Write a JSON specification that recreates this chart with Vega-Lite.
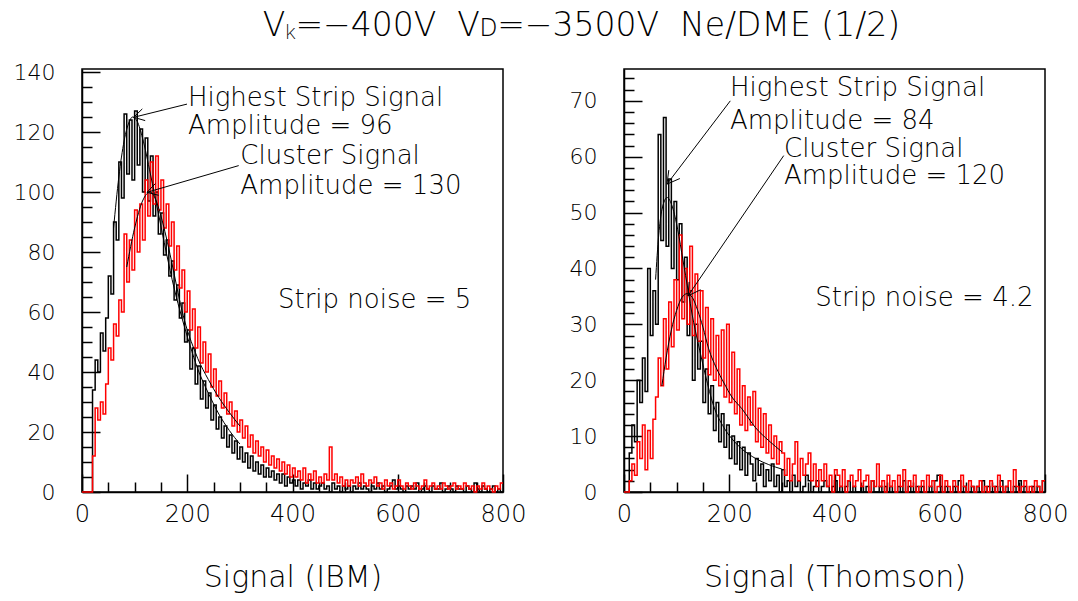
{
"$schema":"https://vega.github.io/schema/vega-lite/v6.json",
"padding":{"left":12,"top":10,"right":5,"bottom":0},
"background":"white",
"config":{"font":"DejaVu Sans","view":{"stroke":"black","strokeWidth":1.5},
"axis":{"labelFont":"DejaVu Sans","labelFontWeight":200,"labelColor":"black","tickColor":"black","domainColor":"black","tickWidth":1.5,"domainWidth":1.5,"grid":false,"labelFlush":false,"labelOverlap":false,"titleFont":"DejaVu Sans","titleFontWeight":200,"titleColor":"black"}},
"title":{"text":"Vₖ=−400V\u00a0\u00a0Vᴅ=−3500V\u00a0\u00a0Ne/DME (1/2)","fontSize":33,"fontWeight":200,"font":"DejaVu Sans, Noto Sans","color":"black","anchor":"middle","offset":17,"dx":41},
"bounds":"flush",
"spacing":121,
"datasets":{
"L":[{"x":0,"a":0,"b":0},{"x":5,"a":0,"b":0},{"x":10,"a":0,"b":0},{"x":15,"a":0,"b":0},{"x":20,"a":34,"b":12},{"x":25,"a":44,"b":28},{"x":30,"a":40,"b":24},{"x":35,"a":53,"b":30},{"x":40,"a":47,"b":26},{"x":45,"a":58,"b":36},{"x":50,"a":72,"b":48},{"x":55,"a":66,"b":44},{"x":60,"a":90,"b":56},{"x":65,"a":84,"b":52},{"x":70,"a":110,"b":64},{"x":75,"a":98,"b":60},{"x":80,"a":126,"b":86},{"x":85,"a":106,"b":70},{"x":90,"a":124,"b":84},{"x":95,"a":104,"b":74},{"x":100,"a":127,"b":94},{"x":105,"a":109,"b":80},{"x":110,"a":121,"b":96},{"x":115,"a":100,"b":84},{"x":120,"a":118,"b":104},{"x":125,"a":97,"b":92},{"x":130,"a":112,"b":110},{"x":135,"a":92,"b":96},{"x":140,"a":100,"b":112},{"x":145,"a":86,"b":94},{"x":150,"a":93,"b":104},{"x":155,"a":79,"b":88},{"x":160,"a":84,"b":96},{"x":165,"a":72,"b":82},{"x":170,"a":77,"b":90},{"x":175,"a":64,"b":74},{"x":180,"a":69,"b":82},{"x":185,"a":58,"b":68},{"x":190,"a":63,"b":74},{"x":195,"a":50,"b":60},{"x":200,"a":54,"b":67},{"x":205,"a":41,"b":54},{"x":210,"a":48,"b":61},{"x":215,"a":36,"b":48},{"x":220,"a":42,"b":55},{"x":225,"a":31,"b":43},{"x":230,"a":37,"b":50},{"x":235,"a":28,"b":40},{"x":240,"a":33,"b":46},{"x":245,"a":24,"b":35},{"x":250,"a":29,"b":41},{"x":255,"a":21,"b":32},{"x":260,"a":25,"b":37},{"x":265,"a":18,"b":28},{"x":270,"a":22,"b":33},{"x":275,"a":15,"b":26},{"x":280,"a":19,"b":30},{"x":285,"a":13,"b":22},{"x":290,"a":17,"b":27},{"x":295,"a":11,"b":20},{"x":300,"a":15,"b":24},{"x":305,"a":10,"b":18},{"x":310,"a":13,"b":22},{"x":315,"a":8,"b":15},{"x":320,"a":12,"b":19},{"x":325,"a":7,"b":13},{"x":330,"a":10,"b":17},{"x":335,"a":6,"b":12},{"x":340,"a":9,"b":15},{"x":345,"a":5,"b":10},{"x":350,"a":8,"b":14},{"x":355,"a":5,"b":9},{"x":360,"a":7,"b":12},{"x":365,"a":4,"b":8},{"x":370,"a":6,"b":11},{"x":375,"a":3,"b":7},{"x":380,"a":6,"b":10},{"x":385,"a":2,"b":6},{"x":390,"a":5,"b":9},{"x":395,"a":3,"b":5},{"x":400,"a":4,"b":8},{"x":405,"a":2,"b":5},{"x":410,"a":4,"b":7},{"x":415,"a":1,"b":4},{"x":420,"a":3,"b":8},{"x":425,"a":2,"b":3},{"x":430,"a":4,"b":6},{"x":435,"a":1,"b":4},{"x":440,"a":3,"b":7},{"x":445,"a":1,"b":3},{"x":450,"a":2,"b":5},{"x":455,"a":3,"b":3},{"x":460,"a":1,"b":6},{"x":465,"a":2,"b":4},{"x":470,"a":0,"b":15},{"x":475,"a":3,"b":4},{"x":480,"a":1,"b":6},{"x":485,"a":2,"b":3},{"x":490,"a":0,"b":5},{"x":495,"a":2,"b":2},{"x":500,"a":1,"b":4},{"x":505,"a":2,"b":2},{"x":510,"a":0,"b":4},{"x":515,"a":2,"b":3},{"x":520,"a":1,"b":5},{"x":525,"a":3,"b":2},{"x":530,"a":1,"b":6},{"x":535,"a":2,"b":3},{"x":540,"a":1,"b":2},{"x":545,"a":0,"b":4},{"x":550,"a":2,"b":3},{"x":555,"a":1,"b":5},{"x":560,"a":3,"b":2},{"x":565,"a":1,"b":3},{"x":570,"a":2,"b":1},{"x":575,"a":0,"b":4},{"x":580,"a":1,"b":2},{"x":585,"a":2,"b":3},{"x":590,"a":4,"b":1},{"x":595,"a":1,"b":2},{"x":600,"a":2,"b":4},{"x":605,"a":1,"b":2},{"x":610,"a":0,"b":1},{"x":615,"a":2,"b":3},{"x":620,"a":1,"b":2},{"x":625,"a":2,"b":1},{"x":630,"a":1,"b":3},{"x":635,"a":3,"b":2},{"x":640,"a":0,"b":1},{"x":645,"a":1,"b":2},{"x":650,"a":2,"b":4},{"x":655,"a":1,"b":1},{"x":660,"a":0,"b":2},{"x":665,"a":2,"b":3},{"x":670,"a":1,"b":1},{"x":675,"a":1,"b":2},{"x":680,"a":3,"b":1},{"x":685,"a":0,"b":3},{"x":690,"a":1,"b":2},{"x":695,"a":2,"b":1},{"x":700,"a":1,"b":2},{"x":705,"a":0,"b":3},{"x":710,"a":2,"b":1},{"x":715,"a":1,"b":2},{"x":720,"a":1,"b":1},{"x":725,"a":0,"b":3},{"x":730,"a":2,"b":2},{"x":735,"a":1,"b":1},{"x":740,"a":0,"b":2},{"x":745,"a":3,"b":0},{"x":750,"a":1,"b":2},{"x":755,"a":0,"b":1},{"x":760,"a":2,"b":3},{"x":765,"a":1,"b":1},{"x":770,"a":0,"b":2},{"x":775,"a":1,"b":1},{"x":780,"a":2,"b":0},{"x":785,"a":0,"b":2},{"x":790,"a":1,"b":1},{"x":795,"a":0,"b":3},{"x":800,"a":0,"b":3}],
"R":[{"x":0,"a":0,"b":0},{"x":5,"a":0,"b":0},{"x":10,"a":7,"b":2},{"x":15,"a":12,"b":5},{"x":20,"a":9,"b":3},{"x":25,"a":20,"b":9},{"x":30,"a":16,"b":6},{"x":35,"a":24,"b":12},{"x":40,"a":18,"b":4},{"x":45,"a":40,"b":11},{"x":50,"a":28,"b":6},{"x":55,"a":36,"b":13},{"x":60,"a":30,"b":17},{"x":65,"a":64,"b":24},{"x":70,"a":45,"b":19},{"x":75,"a":67,"b":31},{"x":80,"a":44,"b":22},{"x":85,"a":56,"b":34},{"x":90,"a":40,"b":26},{"x":95,"a":52,"b":38},{"x":100,"a":38,"b":29},{"x":105,"a":48,"b":46},{"x":110,"a":34,"b":31},{"x":115,"a":42,"b":40},{"x":120,"a":28,"b":30},{"x":125,"a":36,"b":44},{"x":130,"a":20,"b":28},{"x":135,"a":30,"b":39},{"x":140,"a":22,"b":27},{"x":145,"a":27,"b":36},{"x":150,"a":16,"b":24},{"x":155,"a":22,"b":33},{"x":160,"a":14,"b":21},{"x":165,"a":19,"b":31},{"x":170,"a":11,"b":20},{"x":175,"a":16,"b":28},{"x":180,"a":9,"b":19},{"x":185,"a":14,"b":29},{"x":190,"a":8,"b":17},{"x":195,"a":12,"b":30},{"x":200,"a":6,"b":16},{"x":205,"a":10,"b":25},{"x":210,"a":5,"b":14},{"x":215,"a":9,"b":22},{"x":220,"a":4,"b":12},{"x":225,"a":8,"b":19},{"x":230,"a":3,"b":11},{"x":235,"a":7,"b":17},{"x":240,"a":5,"b":12},{"x":245,"a":2,"b":18},{"x":250,"a":6,"b":9},{"x":255,"a":3,"b":15},{"x":260,"a":5,"b":8},{"x":265,"a":1,"b":14},{"x":270,"a":4,"b":7},{"x":275,"a":2,"b":12},{"x":280,"a":5,"b":6},{"x":285,"a":1,"b":10},{"x":290,"a":3,"b":5},{"x":295,"a":0,"b":9},{"x":300,"a":4,"b":7},{"x":305,"a":1,"b":3},{"x":310,"a":2,"b":6},{"x":315,"a":0,"b":2},{"x":320,"a":3,"b":5},{"x":325,"a":1,"b":9},{"x":330,"a":2,"b":2},{"x":335,"a":0,"b":6},{"x":340,"a":1,"b":3},{"x":345,"a":3,"b":5},{"x":350,"a":2,"b":7},{"x":355,"a":0,"b":2},{"x":360,"a":1,"b":5},{"x":365,"a":2,"b":1},{"x":370,"a":0,"b":4},{"x":375,"a":1,"b":2},{"x":380,"a":2,"b":5},{"x":385,"a":1,"b":1},{"x":390,"a":0,"b":3},{"x":395,"a":1,"b":0},{"x":400,"a":2,"b":4},{"x":405,"a":0,"b":3},{"x":410,"a":1,"b":1},{"x":415,"a":0,"b":4},{"x":420,"a":1,"b":0},{"x":425,"a":2,"b":2},{"x":430,"a":0,"b":3},{"x":435,"a":1,"b":1},{"x":440,"a":0,"b":2},{"x":445,"a":0,"b":4},{"x":450,"a":1,"b":1},{"x":455,"a":0,"b":2},{"x":460,"a":1,"b":3},{"x":465,"a":0,"b":0},{"x":470,"a":2,"b":2},{"x":475,"a":0,"b":1},{"x":480,"a":0,"b":5},{"x":485,"a":1,"b":1},{"x":490,"a":0,"b":2},{"x":495,"a":1,"b":0},{"x":500,"a":0,"b":3},{"x":505,"a":1,"b":1},{"x":510,"a":0,"b":2},{"x":515,"a":0,"b":0},{"x":520,"a":1,"b":3},{"x":525,"a":0,"b":1},{"x":530,"a":2,"b":4},{"x":535,"a":0,"b":0},{"x":540,"a":1,"b":2},{"x":545,"a":0,"b":1},{"x":550,"a":0,"b":3},{"x":555,"a":1,"b":0},{"x":560,"a":0,"b":1},{"x":565,"a":1,"b":2},{"x":570,"a":0,"b":0},{"x":575,"a":0,"b":3},{"x":580,"a":1,"b":1},{"x":585,"a":0,"b":2},{"x":590,"a":2,"b":0},{"x":595,"a":3,"b":1},{"x":600,"a":1,"b":3},{"x":605,"a":0,"b":0},{"x":610,"a":1,"b":2},{"x":615,"a":0,"b":1},{"x":620,"a":0,"b":0},{"x":625,"a":1,"b":2},{"x":630,"a":0,"b":1},{"x":635,"a":2,"b":0},{"x":640,"a":0,"b":3},{"x":645,"a":1,"b":1},{"x":650,"a":0,"b":0},{"x":655,"a":0,"b":2},{"x":660,"a":1,"b":1},{"x":665,"a":0,"b":0},{"x":670,"a":1,"b":1},{"x":675,"a":0,"b":2},{"x":680,"a":2,"b":0},{"x":685,"a":0,"b":1},{"x":690,"a":1,"b":0},{"x":695,"a":0,"b":2},{"x":700,"a":0,"b":1},{"x":705,"a":1,"b":0},{"x":710,"a":0,"b":3},{"x":715,"a":2,"b":1},{"x":720,"a":0,"b":0},{"x":725,"a":1,"b":1},{"x":730,"a":0,"b":2},{"x":735,"a":0,"b":0},{"x":740,"a":1,"b":4},{"x":745,"a":0,"b":1},{"x":750,"a":2,"b":0},{"x":755,"a":0,"b":1},{"x":760,"a":1,"b":2},{"x":765,"a":0,"b":0},{"x":770,"a":0,"b":1},{"x":775,"a":1,"b":0},{"x":780,"a":0,"b":2},{"x":785,"a":1,"b":1},{"x":790,"a":0,"b":0},{"x":795,"a":2,"b":2},{"x":800,"a":2,"b":2}],
"LF":[{"f":"s","x":60,"y":88},{"f":"s","x":70,"y":105},{"f":"s","x":80,"y":117},{"f":"s","x":90,"y":123.5},{"f":"s","x":96,"y":125},{"f":"s","x":105,"y":123.5},{"f":"s","x":115,"y":118},{"f":"s","x":130,"y":106},{"f":"s","x":145,"y":93},{"f":"s","x":160,"y":80},{"f":"s","x":175,"y":68},{"f":"s","x":190,"y":58},{"f":"s","x":205,"y":49},{"f":"s","x":220,"y":41},{"f":"s","x":240,"y":33},{"f":"s","x":260,"y":26},{"f":"s","x":280,"y":20.5},{"f":"s","x":300,"y":16},
{"f":"c","x":85,"y":75},{"f":"c","x":100,"y":88},{"f":"c","x":115,"y":97},{"f":"c","x":130,"y":100},{"f":"c","x":140,"y":97.5},{"f":"c","x":150,"y":92},{"f":"c","x":160,"y":85},{"f":"c","x":170,"y":77},{"f":"c","x":180,"y":68.5},{"f":"c","x":190,"y":60.5},{"f":"c","x":200,"y":54},{"f":"c","x":210,"y":49},{"f":"c","x":220,"y":44.5},{"f":"c","x":240,"y":37.5},{"f":"c","x":260,"y":31.5},{"f":"c","x":280,"y":26.5},{"f":"c","x":300,"y":22}],
"RF":[{"f":"s","x":60,"y":38},{"f":"s","x":66,"y":46},{"f":"s","x":72,"y":50.5},{"f":"s","x":82,"y":52.7},{"f":"s","x":92,"y":51},{"f":"s","x":102,"y":47},{"f":"s","x":112,"y":41.5},{"f":"s","x":122,"y":36},{"f":"s","x":130,"y":31.5},{"f":"s","x":140,"y":27},{"f":"s","x":155,"y":20.8},{"f":"s","x":170,"y":15.5},{"f":"s","x":190,"y":11.5},{"f":"s","x":210,"y":9},{"f":"s","x":224,"y":7.7},{"f":"s","x":250,"y":6},{"f":"s","x":275,"y":4.9},{"f":"s","x":300,"y":4.1},
{"f":"c","x":72,"y":19},{"f":"c","x":80,"y":24},{"f":"c","x":90,"y":29},{"f":"c","x":100,"y":32.5},{"f":"c","x":110,"y":34.8},{"f":"c","x":120,"y":35.5},{"f":"c","x":130,"y":34.8},{"f":"c","x":140,"y":32.5},{"f":"c","x":150,"y":29.5},{"f":"c","x":161,"y":25.6},{"f":"c","x":175,"y":22.3},{"f":"c","x":190,"y":19.5},{"f":"c","x":205,"y":17},{"f":"c","x":224,"y":14.9},{"f":"c","x":250,"y":11.5},{"f":"c","x":275,"y":9.2},{"f":"c","x":300,"y":7.2}],
"LA":[{"x":199.5,"y":129.3,"x2":98.2,"y2":124.9},{"x":98.2,"y":124.9,"x2":120.1,"y2":123.8},{"x":98.2,"y":124.9,"x2":114.6,"y2":127.7},{"x":297.8,"y":108.8,"x2":123.5,"y2":99.9},{"x":123.5,"y":99.9,"x2":145.6,"y2":98.9},{"x":123.5,"y":99.9,"x2":139.3,"y2":102.8}],
"RA":[{"x":202.0,"y":70.0,"x2":81.7,"y2":55.1},{"x":81.7,"y":55.1,"x2":106.2,"y2":56.1},{"x":81.7,"y":55.1,"x2":85.1,"y2":57.6},{"x":303.5,"y":60.2,"x2":121.6,"y2":35.1},{"x":121.6,"y":35.1,"x2":145.6,"y2":36.2},{"x":121.6,"y":35.1,"x2":123.7,"y2":37.6}],
"LT":[{"t":"Highest Strip Signal","x":201.4,"y":128.7},{"t":"Amplitude = 96","x":201.4,"y":119.3},{"t":"Cluster Signal","x":300.8,"y":109.3},{"t":"Amplitude = 130","x":300.8,"y":99.3},{"t":"Strip noise = 5","x":372.4,"y":61.2}],
"RT":[{"t":"Highest Strip Signal","x":201.4,"y":70.9},{"t":"Amplitude = 84","x":201.4,"y":65.0},{"t":"Cluster Signal","x":304.0,"y":59.9},{"t":"Amplitude = 120","x":304.0,"y":55.1},{"t":"Strip noise = 4.2","x":363.5,"y":33.2}]
},
"hconcat":[
{"width":421,"height":423,
"resolve":{"scale":{"x":"independent","y":"independent"},"axis":{"x":"independent","y":"independent"}},
"layer":[
{"data":{"name":"L"},"transform":[{"fold":["a","b"],"as":["s","n"]}],
"mark":{"type":"line","interpolate":"step-after","strokeWidth":1.5},
"encoding":{
"x":{"field":"x","type":"quantitative","scale":{"domain":[0,800],"nice":false,"zero":false},
"axis":{"orient":"bottom","values":[0,200,400,600,800],"tickSize":-18,"labelPadding":28,"labelFontSize":24,"title":"Signal (IBM)","titleFontSize":30,"titlePadding":36}},
"y":{"field":"n","type":"quantitative","scale":{"domain":[0,141],"nice":false},
"axis":{"orient":"left","values":[0,20,40,60,80,100,120,140],"tickSize":-18,"labelPadding":45,"labelFontSize":22,"title":null}},
"color":{"field":"s","type":"nominal","scale":{"domain":["a","b"],"range":["#000000","#ff0000"]},"legend":null}}},
{"data":{"name":"LF"},"mark":{"type":"line","interpolate":"monotone","strokeWidth":1,"color":"black"},
"encoding":{"x":{"field":"x","type":"quantitative","scale":{"domain":[0,800],"nice":false,"zero":false},"axis":{"orient":"bottom","values":[50,100,150,250,300,350,450,500,550,650,700,750],"tickSize":-10,"labels":false,"domain":false,"title":null}},
"y":{"field":"y","type":"quantitative","scale":{"domain":[0,141],"nice":false},"axis":{"orient":"left","values":[5,10,15,25,30,35,45,50,55,65,70,75,85,90,95,105,110,115,125,130,135],"tickSize":-10,"labels":false,"domain":false,"title":null}},"detail":{"field":"f"}}},
{"data":{"name":"LA"},"mark":{"type":"rule","strokeWidth":1,"color":"black"},
"encoding":{"x":{"field":"x","type":"quantitative","scale":{"domain":[0,800],"nice":false,"zero":false},"axis":null},"y":{"field":"y","type":"quantitative","scale":{"domain":[0,141],"nice":false},"axis":null},"x2":{"field":"x2"},"y2":{"field":"y2"}}},
{"data":{"name":"LT"},"mark":{"type":"text","align":"left","baseline":"alphabetic","font":"DejaVu Sans","fontWeight":200,"fontSize":26,"color":"black"},
"encoding":{"x":{"field":"x","type":"quantitative","scale":{"domain":[0,800],"nice":false,"zero":false},"axis":null},"y":{"field":"y","type":"quantitative","scale":{"domain":[0,141],"nice":false},"axis":null},"text":{"field":"t"}}}
]},
{"width":421,"height":423,
"resolve":{"scale":{"x":"independent","y":"independent"},"axis":{"x":"independent","y":"independent"}},
"layer":[
{"data":{"name":"R"},"transform":[{"fold":["a","b"],"as":["s","n"]}],
"mark":{"type":"line","interpolate":"step-after","strokeWidth":1.5},
"encoding":{
"x":{"field":"x","type":"quantitative","scale":{"domain":[0,800],"nice":false,"zero":false},
"axis":{"orient":"bottom","values":[0,200,400,600,800],"tickSize":-18,"labelPadding":28,"labelFontSize":24,"title":"Signal (Thomson)","titleFontSize":30,"titlePadding":36}},
"y":{"field":"n","type":"quantitative","scale":{"domain":[0,75.7],"nice":false},
"axis":{"orient":"left","values":[0,10,20,30,40,50,60,70],"tickSize":-18,"labelPadding":45,"labelFontSize":22,"title":null}},
"color":{"field":"s","type":"nominal","scale":{"domain":["a","b"],"range":["#000000","#ff0000"]},"legend":null}}},
{"data":{"name":"RF"},"mark":{"type":"line","interpolate":"monotone","strokeWidth":1,"color":"black"},
"encoding":{"x":{"field":"x","type":"quantitative","scale":{"domain":[0,800],"nice":false,"zero":false},"axis":{"orient":"bottom","values":[50,100,150,250,300,350,450,500,550,650,700,750],"tickSize":-10,"labels":false,"domain":false,"title":null}},
"y":{"field":"y","type":"quantitative","scale":{"domain":[0,75.7],"nice":false},"axis":{"orient":"left","values":[2,4,6,8,12,14,16,18,22,24,26,28,32,34,36,38,42,44,46,48,52,54,56,58,62,64,66,68,72,74],"tickSize":-10,"labels":false,"domain":false,"title":null}},"detail":{"field":"f"}}},
{"data":{"name":"RA"},"mark":{"type":"rule","strokeWidth":1,"color":"black"},
"encoding":{"x":{"field":"x","type":"quantitative","scale":{"domain":[0,800],"nice":false,"zero":false},"axis":null},"y":{"field":"y","type":"quantitative","scale":{"domain":[0,75.7],"nice":false},"axis":null},"x2":{"field":"x2"},"y2":{"field":"y2"}}},
{"data":{"name":"RT"},"mark":{"type":"text","align":"left","baseline":"alphabetic","font":"DejaVu Sans","fontWeight":200,"fontSize":26,"color":"black"},
"encoding":{"x":{"field":"x","type":"quantitative","scale":{"domain":[0,800],"nice":false,"zero":false},"axis":null},"y":{"field":"y","type":"quantitative","scale":{"domain":[0,75.7],"nice":false},"axis":null},"text":{"field":"t"}}}
]}
]
}
